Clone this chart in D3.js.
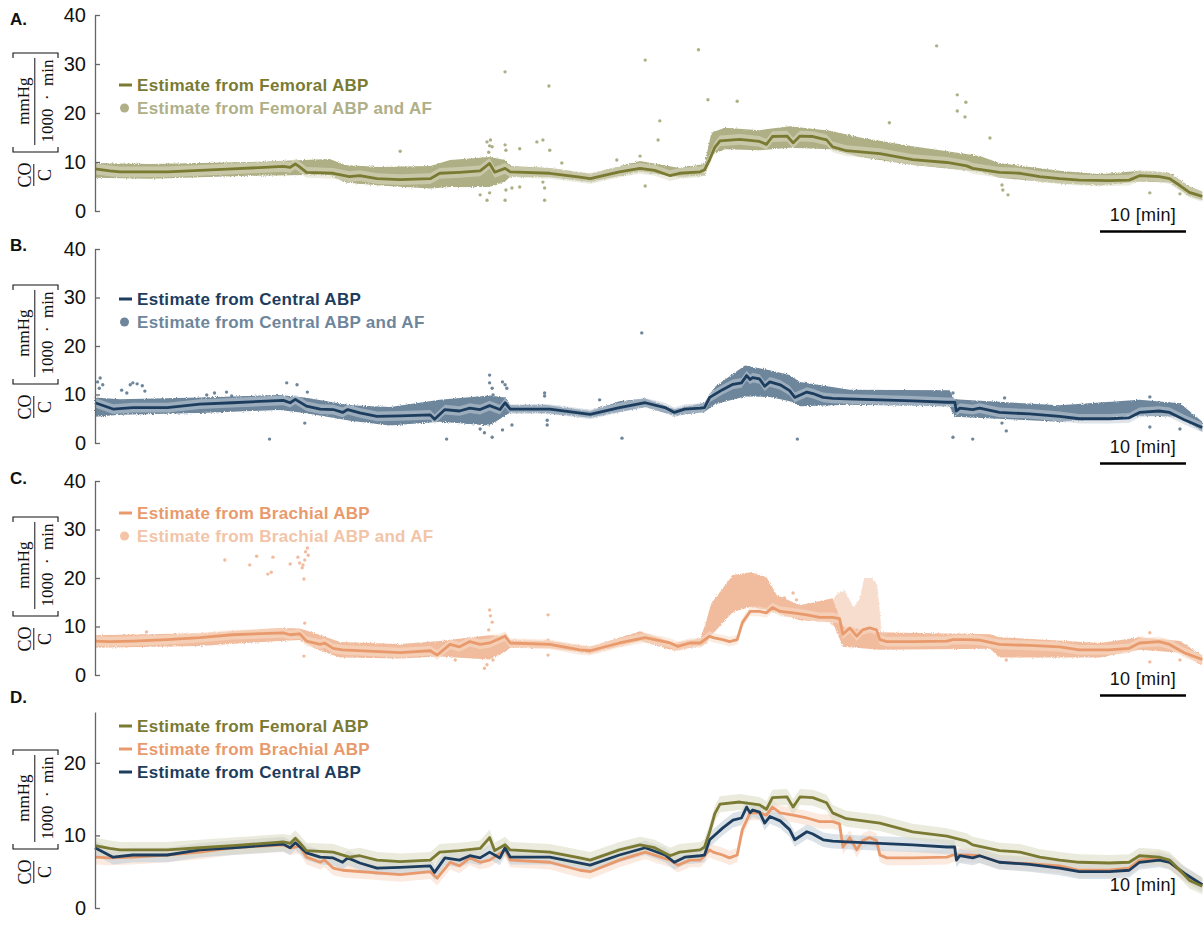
<!DOCTYPE html>
<html>
<head>
<meta charset="utf-8">
<script src="https://cdn.jsdelivr.net/npm/d3@7"></script>
<style>
  body { margin: 0; background: #fff; }
  svg { display: block; }
</style>
</head>
<body>
<svg id="chart" width="1203" height="927"></svg>
<script>
// ---------- data (time in minutes, CO/C in mmHg/(1000·min)) ----------
const femoralLine = [
  [0,8.6],[1.7,8.2],[2.9,8.0],[8.4,8.0],[12.2,8.3],[16.0,8.6],[21.9,9.1],[22.7,8.9],[23.3,9.6],[23.8,9.0],
  [24.6,7.9],[27.7,7.7],[29.6,7.0],[30.8,7.2],[32.8,6.6],[35.5,6.4],[39.0,6.6],[40.1,7.7],[42.4,7.9],[44.8,8.2],
  [45.9,9.7],[46.5,7.9],[47.7,8.7],[48.3,8.0],[52.9,7.7],[56.4,6.9],[57.6,6.6],[61.0,8.0],[63.4,8.7],[65.1,8.3],
  [66.9,7.2],[68.0,7.7],[70.4,8.0],[70.9,8.4],[71.5,10.5],[72.1,13.0],[72.7,14.3],[75.0,14.6],[77.3,14.2],[78.1,13.6],
  [78.8,15.2],[80.5,15.3],[81.2,13.9],[82.0,15.3],[83.5,15.2],[85.1,14.5],[85.8,13.1],[87.4,12.3],[91.3,11.7],[95.1,10.5],
  [99.1,9.9],[101.4,9.2],[102.1,8.7],[105.2,7.9],[107.6,7.7],[109.9,7.0],[112.2,6.6],[114.5,6.3],[118.0,6.2],[120.3,6.3],
  [121.5,7.2],[123.8,7.0],[125.0,6.6],[126.2,5.2],[127.3,3.8],[128.8,3.0]
];
const centralLine = [
  [0,8.3],[2.1,7.0],[4.4,7.3],[8.4,7.3],[12.2,8.0],[16.0,8.3],[21.9,8.8],[22.7,8.3],[23.3,9.0],[24.6,7.6],
  [26.2,7.0],[27.7,6.9],[28.8,6.3],[29.4,6.9],[30.8,6.2],[32.8,5.5],[35.5,5.6],[39.0,5.8],[39.5,4.9],[40.7,6.9],
  [42.4,6.6],[43.6,7.2],[44.8,6.9],[45.9,7.7],[47.1,6.9],[47.7,8.3],[48.3,7.0],[52.9,7.0],[57.6,5.9],[61.0,7.3],
  [64.0,8.3],[66.3,7.3],[67.4,6.3],[68.6,7.0],[70.4,7.2],[70.9,7.3],[71.5,9.4],[73.0,11.0],[74.2,12.1],[75.2,12.4],
  [75.8,13.9],[76.2,13.1],[76.5,13.5],[77.3,13.2],[77.9,11.7],[78.5,12.6],[79.7,12.0],[80.8,10.8],[81.4,9.4],[82.8,10.5],
  [83.5,10.2],[84.7,9.4],[85.8,9.2],[87.4,9.1],[91.3,8.9],[95.1,8.7],[99.1,8.4],[100.0,8.4],[100.2,6.6],[100.6,7.2],
  [102.1,6.9],[102.9,7.2],[105.2,6.3],[108.7,6.0],[112.2,5.5],[114.5,5.0],[118.0,5.0],[120.3,5.2],[121.5,6.3],[123.8,6.6],
  [125.0,6.3],[126.7,4.8],[128.8,3.2]
];
const brachialLine = [
  [0,7.0],[1.7,6.9],[4.4,7.0],[8.4,7.3],[12.2,7.7],[16.0,8.3],[21.9,8.7],[22.7,8.3],[23.8,8.5],[24.6,7.0],
  [26.2,6.3],[26.7,6.6],[27.7,5.5],[28.8,5.2],[35.5,4.6],[39.0,5.0],[39.8,4.1],[41.3,6.3],[42.4,5.8],[43.6,6.9],
  [44.8,6.3],[45.9,6.6],[47.7,8.0],[48.3,6.6],[52.9,6.3],[56.4,5.2],[57.6,5.0],[61.0,6.6],[64.0,7.7],[66.9,6.6],
  [67.8,5.9],[69.2,6.6],[70.4,6.6],[71.5,8.0],[71.9,7.7],[73.0,7.3],[73.8,6.9],[74.7,7.3],[75.3,10.8],[76.2,13.1],
  [77.3,13.1],[78.1,12.8],[78.8,13.9],[79.7,13.1],[81.2,12.8],[82.8,12.4],[84.3,11.9],[85.8,11.9],[86.6,11.6],[87.0,8.4],
  [87.8,9.7],[88.6,8.0],[89.3,9.3],[90.1,9.7],[90.9,9.3],[91.3,7.3],[92.1,6.9],[95.1,6.9],[99.1,7.0],[99.8,7.3],
  [101.4,7.3],[102.9,7.2],[105.2,6.3],[108.7,6.1],[112.2,5.8],[114.5,5.2],[118.0,5.2],[120.3,5.5],[121.5,6.6],[123.8,6.9],
  [125.0,6.3],[126.7,4.6],[128.8,3.2]
];

// half-width of the shaded uncertainty band around each estimate
const bandHalfWidth = { femoral: 1.1, central: 1.0, brachial: 1.0 };

// beat-wise estimates using AF: dense cloud extent [t, low, high]
const femoralCloud = [
  [0,6.8,9.8],[6.4,6.6,9.6],[18.0,7.2,10.0],[27.3,7.4,10.6],[29.1,5.8,9.4],[33.1,5.2,9.0],[39.0,4.6,9.2],
  [41.3,4.9,10.4],[45.9,4.9,11.0],[47.7,6.0,10.4],[48.3,7.0,9.2],[52.9,6.9,8.8],[57.6,5.9,7.6],[63.4,8.0,10.2],
  [68.0,7.0,8.8],[70.9,7.2,9.6],[71.7,11.5,16.0],[73.3,12.6,17.0],[77.3,12.4,16.5],[80.8,12.9,17.3],[85.5,12.6,16.4],
  [89.0,11.0,15.0],[95.1,9.4,13.2],[102.9,8.0,11.2],[105.2,6.8,9.8],[112.2,5.6,8.2],[116.9,5.2,7.5],[121.5,6.0,8.2],
  [125.0,5.8,7.8],[127.3,3.0,5.0],[128.8,2.2,4.0]
];
const centralCloud = [
  [0,5.4,9.4],[2.9,5.8,9.0],[12.2,6.2,9.4],[21.5,6.8,9.9],[24.4,6.2,9.4],[29.7,4.6,7.8],[34.3,3.6,7.4],
  [40.1,4.4,8.9],[45.9,3.6,9.8],[47.7,5.6,9.4],[48.3,6.3,7.8],[52.3,6.2,7.9],[57.6,5.2,6.6],[61.0,6.4,8.6],
  [64.0,7.4,9.2],[67.4,5.6,7.0],[70.9,6.4,8.3],[72.1,8.0,11.6],[75.6,9.6,16.0],[78.5,9.5,15.0],[80.8,8.6,14.0],
  [82.0,7.6,12.6],[87.8,7.9,11.0],[99.4,7.6,10.9],[100.0,5.4,9.0],[112.2,4.4,7.8],[121.5,5.6,8.9],[126.2,5.4,8.2],
  [128.8,2.3,4.4]
];
const brachialCloud = [
  [0,5.6,8.2],[12.2,6.0,8.6],[21.5,7.0,9.7],[23.8,7.2,9.6],[25.6,5.4,8.6],[28.5,3.6,6.8],[35.5,3.4,6.4],
  [40.1,3.8,7.0],[45.9,3.2,8.2],[47.7,4.8,8.0],[48.3,5.6,7.2],[52.9,5.5,7.0],[57.6,4.4,5.8],[63.4,7.0,9.0],
  [67.4,5.0,6.6],[70.4,6.0,7.6],[70.9,6.2,10.0],[71.7,8.2,14.8],[74.2,13.0,20.6],[76.2,14.0,21.2],[78.1,13.4,20.2],
  [79.3,12.8,16.5],[82.0,11.3,14.4],[85.8,10.9,15.8],[87.0,5.8,10.0],[91.3,5.2,8.8],[104.1,5.4,8.4],[105.2,3.6,7.8],
  [116.9,3.6,6.6],[121.5,5.2,7.8],[126.2,4.6,7.0],[128.8,2.0,4.0]
];
// sparse upper cluster of brachial estimates during the second hemodynamic event
const brachialSparse = [
  [85.5,10.5,14.5],[86.4,9.5,17.0],[87.2,9.0,17.5],[88.2,8.5,14.0],[88.9,9.0,15.5],[89.5,9.0,20.0],[90.4,9.0,20.0],
  [91.0,9.0,18.5],[91.4,9.0,11.0]
];

// isolated beat-wise estimates [t, value]
const femoralOutliers = [
  [64.0,30.8],[70.2,32.9],[71.3,22.7],[47.7,28.4],[52.8,25.5],[97.9,33.7],[100.3,23.7],[100.3,20.4],[101.3,22.2],
  [101.2,19.2],[104.1,14.9],[92.4,18.0],[74.7,22.4],[35.5,12.2],[45.6,14.1],[46.0,14.5],[45.9,13.3],[46.2,13.1],
  [45.8,12.0],[47.7,13.5],[47.8,12.4],[51.4,14.1],[52.1,14.5],[52.9,12.4],[49.4,12.7],[44.8,3.3],[45.6,2.2],
  [45.9,3.7],[47.7,2.2],[47.8,4.3],[48.5,4.7],[49.4,4.9],[52.3,4.7],[52.3,2.2],[52.1,5.9],[54.3,9.8],[64.0,5.1],
  [65.5,14.5],[65.7,18.4],[60.7,10.4],[63.4,11.2],[105.5,5.3],[105.6,4.3],[106.2,3.3],[122.7,3.7],[126.2,3.5]
];
const centralOutliers = [
  [0.3,12.6],[0.9,12.0],[0.6,13.4],[0.5,11.3],[3.1,10.9],[4.1,12.0],[4.4,12.4],[4.9,12.2],[5.5,11.8],[5.8,10.7],
  [3.7,10.3],[13.0,9.9],[13.9,10.3],[15.3,10.5],[15.9,9.7],[22.3,12.4],[23.5,12.0],[24.7,10.5],[24.4,4.1],
  [20.3,0.8],[40.9,0.8],[45.9,14.0],[45.9,12.4],[46.2,11.3],[46.3,9.9],[47.4,12.6],[47.7,12.0],[47.9,11.3],
  [44.8,2.9],[45.3,2.1],[46.2,1.2],[47.4,2.7],[48.5,3.7],[52.3,10.3],[52.3,9.7],[52.6,4.7],[52.6,3.7],[63.6,22.7],
  [58.7,8.9],[61.3,1.0],[81.7,0.8],[99.8,1.2],[102.1,0.8],[99.8,10.3],[105.8,9.3],[106.0,2.5],[105.5,4.1],
  [122.7,9.5],[122.7,3.3],[126.2,2.9]
];
const brachialOutliers = [
  [15.1,23.7],[18.0,22.7],[18.8,24.5],[20.1,20.8],[20.5,21.2],[20.7,24.3],[22.7,22.9],[23.6,24.3],[23.8,23.1],
  [24.1,22.1],[24.2,22.7],[24.4,23.7],[24.7,26.2],[24.5,25.4],[24.8,24.7],[24.3,19.8],[24.4,10.7],[24.3,3.9],
  [6.0,8.9],[45.9,13.4],[46.0,12.2],[46.2,10.9],[45.8,9.3],[46.3,3.1],[45.6,2.1],[45.3,1.4],[47.7,8.2],[47.7,5.2],
  [43.6,4.1],[41.9,3.1],[52.7,12.4],[52.7,7.2],[52.7,4.1],[81.2,16.9],[81.6,15.5],[80.2,15.9],[122.7,8.7],
  [122.7,2.7],[126.2,3.1],[106.0,3.1]
];

const seriesNames = ['Estimate from Femoral ABP', 'Estimate from Central ABP', 'Estimate from Brachial ABP'];
const withAFSuffix = ' and AF';
const yTicksFull = [0, 10, 20, 30, 40];
const yTicksOverlay = [0, 10, 20];
const timeDomain = [0, 129];      // minutes
const scaleBarMinutes = 10;
const scaleBarEnd = 126.9;        // minutes

// ---------- styling ----------
const colors = {
  femoral:  { line: '#7a7a33', cloud: '#afaf86', band: '#dcdcc6', legendDot: '#afaf88' },
  central:  { line: '#1d3d5e', cloud: '#6e869b', band: '#c3ced9', legendDot: '#6e869c' },
  brachial: { line: '#e99a6c', cloud: '#f1bc9e', band: '#f8dccb', legendDot: '#f3c4a7' }
};
const sansFont = '"Liberation Sans", Arial, Helvetica, sans-serif';
const serifFont = '"Liberation Serif", "DejaVu Serif", "Times New Roman", serif';

const svg = d3.select('#chart');
const x = d3.scaleLinear().domain(timeDomain).range([95, 1204]);

// fine grain for the dense scatter clouds
const defs = svg.append('defs');
const grain = defs.append('filter').attr('id', 'grain')
  .attr('x', '-2%').attr('y', '-30%').attr('width', '104%').attr('height', '160%');
grain.append('feTurbulence').attr('type', 'fractalNoise').attr('baseFrequency', 0.9)
  .attr('numOctaves', 2).attr('seed', 4).attr('result', 'noise');
grain.append('feDisplacementMap').attr('in', 'SourceGraphic').attr('in2', 'noise')
  .attr('scale', 3).attr('xChannelSelector', 'R').attr('yChannelSelector', 'G');

const series = {
  femoral:  { name: seriesNames[0], line: femoralLine,  cloud: femoralCloud,  outliers: femoralOutliers,  sparse: null },
  central:  { name: seriesNames[1], line: centralLine,  cloud: centralCloud,  outliers: centralOutliers,  sparse: null },
  brachial: { name: seriesNames[2], line: brachialLine, cloud: brachialCloud, outliers: brachialOutliers, sparse: brachialSparse }
};

const panels = [
  { letter: 'A.', letterY: 25, top: 15,  bottom: 211, yMax: 40, ticks: yTicksFull, key: 'femoral',  legendY: 91,  scaleBar: true },
  { letter: 'B.', letterY: 251, top: 249, bottom: 443, yMax: 40, ticks: yTicksFull, key: 'central',  legendY: 305, scaleBar: true },
  { letter: 'C.', letterY: 484, top: 481, bottom: 675, yMax: 40, ticks: yTicksFull, key: 'brachial', legendY: 519, scaleBar: true },
  { letter: 'D.', letterY: 703, top: 712, bottom: 908, yMax: 27, ticks: yTicksOverlay, overlay: ['brachial', 'central', 'femoral'],
    legendOrder: ['femoral', 'brachial', 'central'], legendY: 732, scaleBar: false }
];

function drawYLabel(g, bottom) {
  const lab = g.append('g')
    .attr('transform', `translate(33,${bottom}) rotate(-90)`)
    .style('font-family', serifFont).attr('fill', '#111');
  lab.append('text').attr('x', 36).attr('y', -2.5).attr('text-anchor', 'middle').attr('font-size', 18).text('CO');
  lab.append('line').attr('x1', 25).attr('x2', 47).attr('y1', 0.8).attr('y2', 0.8).attr('stroke', '#111').attr('stroke-width', 1);
  lab.append('text').attr('x', 36).attr('y', 17.5).attr('text-anchor', 'middle').attr('font-size', 18).text('C');
  lab.append('path').attr('d', 'M64,-20 H59 V25 H64').attr('fill', 'none').attr('stroke', '#111').attr('stroke-width', 1.1);
  lab.append('path').attr('d', 'M153,-20 H158 V25 H153').attr('fill', 'none').attr('stroke', '#111').attr('stroke-width', 1.1);
  lab.append('text').attr('x', 110).attr('y', -4.5).attr('text-anchor', 'middle').attr('font-size', 17).text('mmHg');
  lab.append('line').attr('x1', 66).attr('x2', 153).attr('y1', 1.8).attr('y2', 1.8).attr('stroke', '#111').attr('stroke-width', 1);
  lab.append('text').attr('x', 110).attr('y', 19.5).attr('text-anchor', 'middle').attr('font-size', 17)
    .text('1000\u2002\u00B7\u2002min');
}

function drawPanel(p) {
  const g = svg.append('g');
  const y = d3.scaleLinear().domain([0, p.yMax]).range([p.bottom, p.top]);

  const cloudArea = d3.area().x(d => x(d[0])).y0(d => y(d[1])).y1(d => y(d[2]));
  const bandArea = hw => d3.area().x(d => x(d[0])).y0(d => y(d[1] - hw)).y1(d => y(d[1] + hw));
  const line = d3.line().x(d => x(d[0])).y(d => y(d[1]));

  if (!p.overlay) {
    const s = series[p.key], c = colors[p.key];
    g.append('path').datum(s.cloud).attr('d', cloudArea).attr('fill', c.cloud).attr('filter', 'url(#grain)');
    if (s.sparse) {
      g.append('path').datum(s.sparse).attr('d', cloudArea).attr('fill', c.cloud)
        .attr('opacity', 0.5).attr('filter', 'url(#grain)');
    }
    g.append('g').selectAll('circle').data(s.outliers).join('circle')
      .attr('cx', d => x(d[0])).attr('cy', d => y(d[1])).attr('r', 1.7).attr('fill', c.cloud);
    g.append('path').datum(s.line).attr('d', bandArea(bandHalfWidth[p.key]))
      .attr('fill', c.band).attr('opacity', 0.55);
    g.append('path').datum(s.line).attr('d', line)
      .attr('fill', 'none').attr('stroke', c.line).attr('stroke-width', 2.8).attr('stroke-linejoin', 'round');
  } else {
    p.overlay.forEach(k => {
      g.append('path').datum(series[k].line).attr('d', bandArea(bandHalfWidth[k]))
        .attr('fill', colors[k].band).attr('opacity', 0.6);
    });
    p.overlay.forEach(k => {
      g.append('path').datum(series[k].line).attr('d', line)
        .attr('fill', 'none').attr('stroke', colors[k].line).attr('stroke-width', 2.8).attr('stroke-linejoin', 'round');
    });
  }

  // y axis with inward ticks
  const axis = g.append('g').attr('transform', 'translate(95,0)')
    .call(d3.axisLeft(y).tickValues(p.ticks).tickSizeInner(-5).tickSizeOuter(0).tickPadding(9));
  axis.select('.domain').attr('stroke', '#666').attr('stroke-width', 1.3);
  axis.selectAll('.tick line').attr('stroke', '#666').attr('stroke-width', 1.3);
  axis.selectAll('.tick text').attr('fill', '#111').style('font-family', sansFont).style('font-size', '20px');

  // panel letter
  g.append('text').attr('x', 10).attr('y', p.letterY).text(p.letter)
    .style('font-family', sansFont).style('font-size', '17px').style('font-weight', 'bold').attr('fill', '#111');

  drawYLabel(g, p.bottom);

  // legend
  const leg = g.append('g').style('font-family', sansFont).style('font-size', '17px')
    .style('font-weight', 'bold').style('letter-spacing', '0.3px');
  if (!p.overlay) {
    const s = series[p.key], c = colors[p.key];
    const rows = [
      { text: s.name, color: c.line, marker: 'line' },
      { text: s.name + withAFSuffix, color: c.legendDot, marker: 'dot' }
    ];
    rows.forEach((r, i) => {
      const by = p.legendY + i * 22.5;
      if (r.marker === 'line') {
        leg.append('line').attr('x1', 119).attr('x2', 132).attr('y1', by - 6).attr('y2', by - 6)
          .attr('stroke', r.color).attr('stroke-width', 3);
      } else {
        leg.append('circle').attr('cx', 124.5).attr('cy', by - 5.5).attr('r', 4.5).attr('fill', r.color);
      }
      leg.append('text').attr('x', 137).attr('y', by).attr('fill', r.color).text(r.text);
    });
  } else {
    p.legendOrder.forEach((k, i) => {
      const by = p.legendY + i * 23;
      leg.append('line').attr('x1', 119).attr('x2', 132).attr('y1', by - 6).attr('y2', by - 6)
        .attr('stroke', colors[k].line).attr('stroke-width', 3);
      leg.append('text').attr('x', 137).attr('y', by).attr('fill', colors[k].line).text(series[k].name);
    });
  }

  // time scale bar
  const sbMid = x(scaleBarEnd - scaleBarMinutes / 2);
  const sbText = g.append('text').attr('x', sbMid).attr('text-anchor', 'middle')
    .style('font-family', sansFont).style('font-size', '18px').style('letter-spacing', '0.3px')
    .attr('fill', '#111').text(`${scaleBarMinutes} [min]`);
  if (p.scaleBar) {
    sbText.attr('y', p.bottom + 10);
    g.append('line').attr('x1', x(scaleBarEnd - scaleBarMinutes)).attr('x2', x(scaleBarEnd))
      .attr('y1', p.bottom + 20.5).attr('y2', p.bottom + 20.5).attr('stroke', '#000').attr('stroke-width', 2.6);
  } else {
    sbText.attr('y', p.bottom - 17);
  }
}

panels.forEach(drawPanel);
</script>
</body>
</html>
